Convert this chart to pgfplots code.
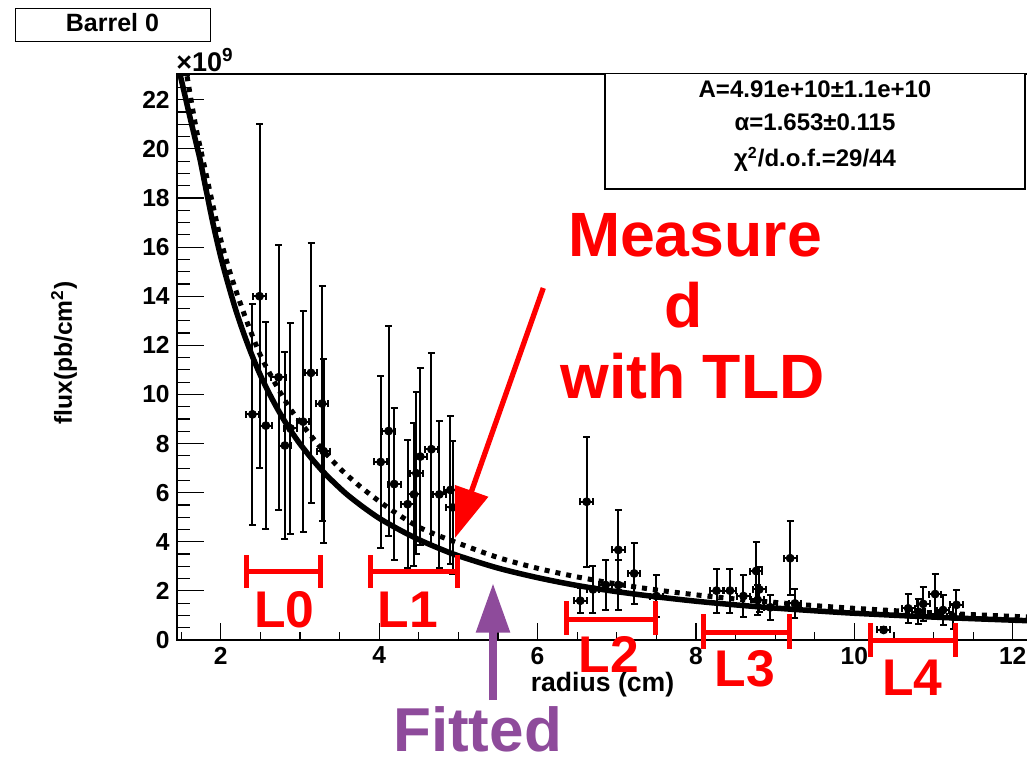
\documentclass[border=0pt]{standalone}
\usepackage{fontspec}
\setmainfont{Liberation Sans}
\usepackage{pgfplots}
\pgfplotsset{compat=1.18}
\usepackage{pgfplotstable}
\usetikzlibrary{arrows.meta}
\definecolor{fitpurple}{RGB}{142,75,155}
\newcommand\fs[1]{\fontsize{#1}{#1}\selectfont\bfseries}

\pgfplotstableread{
x ex y ey
2.40 0.08 9.19 4.5
2.49 0.08 14.0 7.0
2.57 0.08 8.73 4.2
2.73 0.09 10.7 5.4
2.81 0.08 7.92 3.8
2.88 0.08 8.62 4.3
3.04 0.08 8.89 4.5
3.14 0.08 10.88 5.3
3.28 0.08 9.63 4.8
3.30 0.08 7.69 3.75
4.02 0.08 7.25 3.5
4.12 0.08 8.51 4.26
4.19 0.08 6.35 3.1
4.36 0.08 5.53 2.6
4.44 0.08 5.93 2.9
4.47 0.08 6.79 3.3
4.52 0.08 7.47 3.6
4.66 0.08 7.77 3.9
4.76 0.08 5.93 3.0
4.90 0.08 6.11 3.0
4.93 0.08 5.40 2.7
6.54 0.08 1.60 0.5
6.62 0.08 5.63 2.65
6.70 0.08 2.06 0.95
6.86 0.08 2.24 1.0
7.02 0.08 3.67 1.63
7.02 0.08 2.24 1.0
7.22 0.08 2.71 1.25
7.50 0.08 1.79 0.85
8.26 0.08 2.01 0.9
8.43 0.08 2.01 0.9
8.60 0.08 1.79 0.85
8.76 0.08 2.81 1.2
8.78 0.08 1.63 0.6
8.80 0.08 2.06 0.9
8.94 0.08 1.33 0.5
9.19 0.08 3.33 1.5
9.25 0.08 1.49 0.6
10.37 0.08 0.41 0.1
10.68 0.08 1.29 0.6
10.81 0.08 1.15 0.5
10.87 0.08 1.47 0.7
11.02 0.08 1.87 0.8
11.12 0.08 1.22 0.6
11.25 0.08 0.95 0.5
11.29 0.08 1.43 0.6
}\fluxdata

\pgfplotstableread{
x y
1.46 23.5
1.486 23.05
1.55 22.15
1.6 21.45
1.67 20.5
1.74 19.55
1.8 18.58
1.9 17.0
2.0 15.61
2.1 14.42
2.2 13.34
2.3 12.40
2.4 11.55
2.5 10.79
2.6 10.12
2.7 9.51
2.8 8.95
2.9 8.45
3.0 7.99
3.15 7.38
3.3 6.83
3.45 6.35
3.6 5.91
3.8 5.41
4.0 4.96
4.25 4.50
4.5 4.09
4.75 3.74
5.0 3.43
5.5 2.93
6.0 2.54
6.5 2.22
7.0 1.97
7.5 1.76
8.0 1.58
8.5 1.43
9.0 1.30
9.5 1.19
10.0 1.09
11.0 0.933
12.0 0.808
12.5 0.755
}\fitsolid

\pgfplotstableread{
x y
1.55 23.4
1.57 23.05
1.63 21.9
1.7 20.66
1.8 19.2
1.886 17.92
2.0 16.3
2.1 15.15
2.2 14.15
2.35 12.8
2.5 11.6
2.62 10.85
2.75 10.09
2.87 9.45
3.0 8.89
3.25 7.88
3.5 7.0
3.75 6.28
4.0 5.65
4.25 5.09
4.5 4.6
4.75 4.25
5.0 3.94
5.5 3.36
6.0 2.92
6.5 2.57
7.0 2.28
7.5 2.04
8.0 1.84
8.5 1.67
9.0 1.53
9.5 1.40
10.0 1.29
11.0 1.107
12.0 0.963
12.5 0.902
}\fitdotted

\begin{document}
\begin{tikzpicture}
\useasboundingbox (0pt,0pt) rectangle (513.5pt,-379pt);
\clip (0pt,0pt) rectangle (513.5pt,-379pt);
% y ticks, data and fits
\begin{axis}[
  at={(88.35pt,-320pt)}, anchor=south west,
  scale only axis, width=437.8pt, height=283pt,
  xmin=1.444, xmax=12.5, ymin=0, ymax=23.05,
  axis line style={line width=1pt},
  tick align=inside, tick pos=left,
  xtick=\empty,
  ytick={0,2,...,22},
  minor ytick={0,0.5,...,23},
  major tick length=13.5pt, minor tick length=6.5pt,
  tick style={line width=0.6pt, black},
  /pgf/number format/assume math mode=true,
  yticklabel style={font=\fs{12.3pt}},
]
\addplot[black, only marks, mark=*, mark size=2pt,
  error bars/.cd, x dir=both, x explicit, y dir=both, y explicit,
  error mark=|,
  error bar style={line width=1pt},
  error mark options={line width=1pt, mark size=1.75pt}]
  table[x=x, y=y, x error=ex, y error=ey]{\fluxdata};
\addplot[black, line width=2.75pt, no marks, smooth] table[x=x, y=y]{\fitsolid};
\addplot[black, line width=2.5pt, dash pattern=on 2.5pt off 3pt, no marks, smooth] table[x=x, y=y]{\fitdotted};
\end{axis}
% x ticks
\begin{axis}[
  at={(88.35pt,-320pt)}, anchor=south west,
  scale only axis, width=437.8pt, height=283pt,
  xmin=1.444, xmax=12.5, ymin=0, ymax=23.05,
  axis line style={line width=1pt},
  tick align=inside, tick pos=left,
  ytick=\empty,
  xtick={2,4,...,12},
  minor xtick={1.5,2,...,12.5},
  major tick length=8.5pt, minor tick length=4pt,
  tick style={line width=0.6pt, black},
  /pgf/number format/assume math mode=true,
  xticklabel style={font=\fs{12.3pt}},
]
\end{axis}
\begin{scope}[x=0.5pt, y=-0.5pt]
  % title box
  \draw[line width=0.5pt] (15,8.3) rectangle (210,41.7);
  \node[anchor=base, inner sep=0, font=\fs{12.5pt}] at (112.5,31.7) {Barrel 0};
  % exponent
  \node[anchor=base west, inner sep=0, font=\fs{13.5pt}] at (176,72) {×10\textsuperscript{9}};
  % axis titles
  \node[anchor=base, inner sep=0, font=\fs{13.3pt}] at (602.5,691.7) {radius (cm)};
  \node[rotate=90, inner sep=0, font=\fs{12.3pt}] at (64,353) {flux(pb/cm\textsuperscript{2})};
  % fit box
  \draw[line width=0.6pt, fill=white] (605,73.3) rectangle (1025,189);
  \node[anchor=base, inner sep=0, font=\fs{12pt}] at (815,97.3) {A=4.91e+10±1.1e+10};
  \node[anchor=base, inner sep=0, font=\fs{12pt}] at (815,131) {α=1.653±0.115};
  \node[anchor=base, inner sep=0, font=\fs{12pt}] at (815,167) {χ\textsuperscript{2}/d.o.f.=29/44};
  % red annotation
  \node[anchor=base, inner sep=0, text=red, font=\fs{31.3pt}] at (695,256.7) {Measure};
  \node[anchor=base, inner sep=0, text=red, font=\fs{31.3pt}] at (684,327.3) {d};
  \node[anchor=base, inner sep=0, text=red, font=\fs{31.3pt}] at (692.5,398.3) {with TLD};
  \draw[red, line width=2.65pt, -{Triangle[width=17pt,length=25pt]}] (543.3,288) -- (455,538);
  % purple annotation
  \draw[fitpurple, line width=3.6pt, -{Triangle[width=16.3pt,length=24.7pt]}] (493,700) -- (493,583.3);
  \node[anchor=base, inner sep=0, text=fitpurple, font=\fs{31pt}] at (477.5,751) {Fitted};
  % layer brackets
  \begin{scope}[red, line width=2.5pt]
    \draw (246,571.7) -- (320,571.7); \draw (246,555) -- (246,588.3); \draw (320,555) -- (320,588.3);
    \draw (370,571.7) -- (457.3,571.7); \draw (370,555) -- (370,588.3); \draw (457.3,555) -- (457.3,588.3);
    \draw (566.7,619.3) -- (655,619.3); \draw (566.7,601) -- (566.7,635); \draw (655,601) -- (655,635);
    \draw (703,632) -- (789,632); \draw (703,614) -- (703,649); \draw (789,614) -- (789,649);
    \draw (870,640) -- (955,640); \draw (870,623) -- (870,656.7); \draw (955,623) -- (955,656.7);
  \end{scope}
  \node[anchor=base, inner sep=0, text=red, font=\fs{25.8pt}] at (284.5,627.3) {L0};
  \node[anchor=base, inner sep=0, text=red, font=\fs{25.8pt}] at (408,627.3) {L1};
  \node[anchor=base, inner sep=0, text=red, font=\fs{25.8pt}] at (609,672) {L2};
  \node[anchor=base, inner sep=0, text=red, font=\fs{25.8pt}] at (745,686) {L3};
  \node[anchor=base, inner sep=0, text=red, font=\fs{25.8pt}] at (912.5,695) {L4};
\end{scope}
\end{tikzpicture}
\end{document}
